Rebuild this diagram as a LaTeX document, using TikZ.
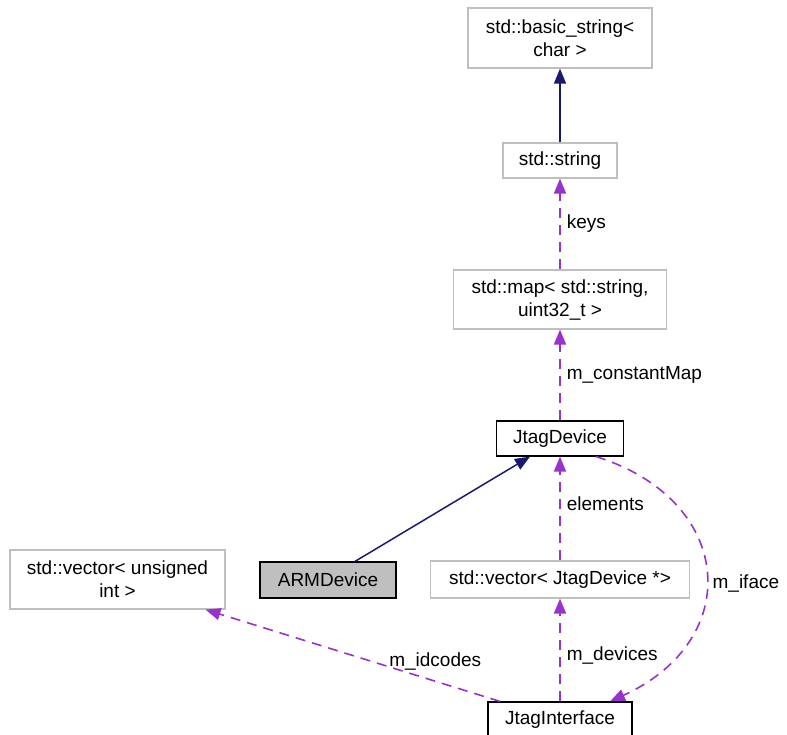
\documentclass[tikz,border=0pt]{standalone}
\usepackage{fontspec}
\setmainfont{Liberation Sans}
\usepackage{tikz}
\usetikzlibrary{shapes,arrows.meta,positioning}
\usepackage{xcolor}
\definecolor{inhcol}{RGB}{25,25,112}
\definecolor{usecol}{RGB}{153,50,204}
\definecolor{boxgray}{RGB}{191,191,191}

\tikzset{
  cls/.style={draw=boxgray, line width=1.2pt, fill=white, align=center, inner sep=0pt,
    font=\fontsize{19}{23}\selectfont},
  clsdoc/.style={cls, draw=black},
  clscur/.style={cls, draw=black, fill=boxgray},
  inh/.style={draw=inhcol, line width=1.5pt, -{Triangle[length=15pt,width=12pt]}},
  assoc/.style={draw=usecol, line width=1.6pt, dash pattern=on 10pt off 7pt,
    -{Triangle[length=15pt,width=12pt]}},
  lbl/.style={font=\fontsize{19}{23}\selectfont, inner sep=6pt}
}

\begin{document}
\begin{tikzpicture}[x=1pt,y=-1pt]
\useasboundingbox (0,0) rectangle (787,734);

% string classes
\node[cls, minimum width=184pt, minimum height=60pt] (basicstr) at (560,38) {std::basic\_string<\\ char >};
\node[cls, minimum width=114pt, minimum height=35pt] (stdstr) at (560,160.5) {std::string};
\node[cls, minimum width=213pt, minimum height=59pt] (stdmap) at (560,299.5) {std::map< std::string,\\ uint32\_t >};

% devices
\node[clsdoc, minimum width=127pt, minimum height=35pt] (jtagdev) at (560,438.5) {JtagDevice};
\node[clscur, minimum width=136pt, minimum height=36pt] (armdev) at (328,580) {ARMDevice};
\node[cls, minimum width=215pt, minimum height=59pt] (vecuint) at (117.5,579.5) {std::vector< unsigned\\ int >};
\node[cls, minimum width=259pt, minimum height=37pt] (vecdev) at (560,579.5) {std::vector< JtagDevice *>};

% interface
\node[clsdoc, minimum width=144pt, minimum height=35pt] (jtagif) at (560,719.5) {JtagInterface};

% inheritance
\draw[inh] (stdstr) -- (basicstr);
\draw[inh] ([xshift=27pt]armdev.north) -- ([xshift=-30pt]jtagdev.south);

% usage
\draw[assoc] (stdmap) -- node[lbl, right] {keys} (stdstr);
\draw[assoc] (jtagdev) -- node[lbl, right] {m\_constantMap} (stdmap);
\draw[assoc] (vecdev) -- node[lbl, right, pos=0.55] {elements} (jtagdev);
\draw[assoc] (jtagif) -- node[lbl, right, pos=0.45] {m\_devices} (vecdev);
\draw[assoc] ([xshift=-60pt]jtagif.north) -- node[lbl, above=4pt, pos=0.22] {m\_idcodes} ([xshift=88pt]vecuint.south);
\draw[assoc] ([xshift=36pt]jtagdev.south) .. controls (735,500) and (745,640) .. node[lbl, right, pos=0.54] {m\_iface} ([xshift=50pt]jtagif.north);
\end{tikzpicture}
\end{document}
